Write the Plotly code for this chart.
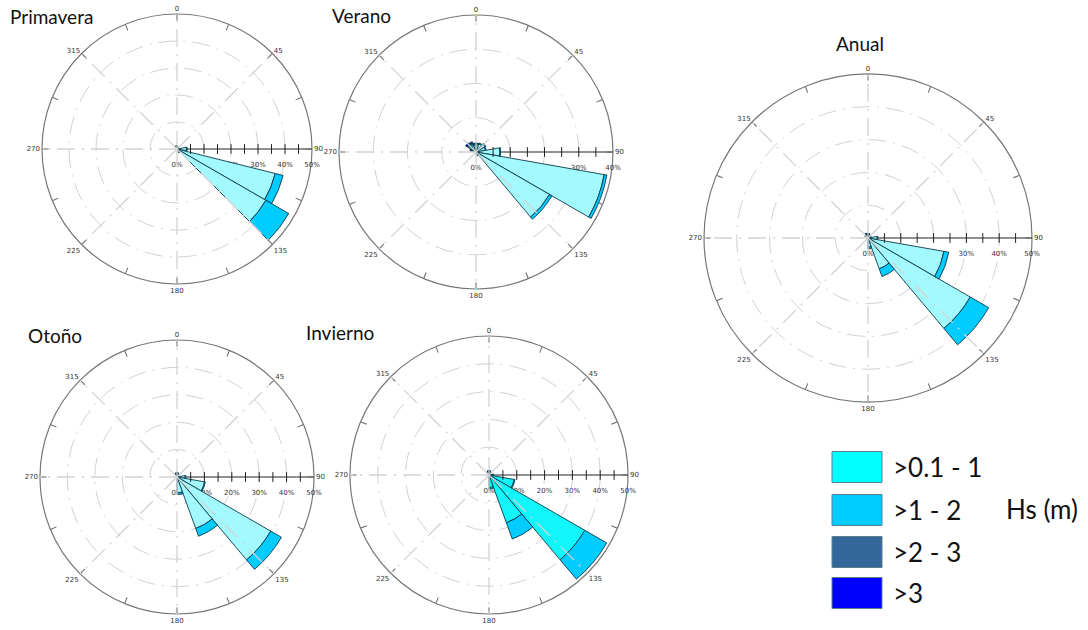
import plotly.graph_objects as go

W, H = 1088, 630

# ---------------- data (percent of occurrences per direction bin) ----------------
CLASS_NAMES = [">0.1 - 1", ">1 - 2", ">2 - 3", ">3"]
CLASS_COLORS = ["#00FFFF", "#00CCFF", "#336699", "#0000FF"]
LIGHT_CYAN = "#A2FAFF"

ANG_TICKS = [0, 22.5, 45, 67.5, 90, 112.5, 135, 157.5, 180, 202.5, 225, 247.5,
             270, 292.5, 315, 337.5]
ANG_LABELS = ["0", "", "45", "", "90", "", "135", "", "180", "", "225", "",
              "270", "", "315", ""]
SPOKES = [0, 45, 135, 180, 225, 270, 315]

# Primavera
PRIM_DIR = [330, 350, 10, 30, 90, 112, 127.5, 145]
PRIM_WID = [20, 20, 20, 20, 20, 16, 15, 20]
PRIM_H1 = [0.6, 0.8, 0.8, 0.6, 3.5, 37.5, 38.0, 1.2]
PRIM_H2 = [0.2, 0.2, 0.2, 0.2, 0.3, 3.0, 9.8, 0.4]
PRIM_H3 = [0.2, 0.2, 0.1, 0.0, 0.0, 0.0, 0.0, 0.0]
PRIM_H4 = [0.1, 0.1, 0.0, 0.0, 0.0, 0.0, 0.0, 0.0]

# Verano
VER_DIR = [290, 310, 330, 350, 10, 30, 50, 70, 90, 110, 130, 150]
VER_WID = [20] * 12
VER_H1 = [1.0, 1.8, 2.0, 2.0, 2.2, 2.5, 3.0, 2.8, 7.0, 38.0, 24.8, 1.0]
VER_H2 = [0.3, 0.6, 0.5, 0.3, 0.3, 0.3, 0.3, 0.2, 0.2, 0.8, 0.8, 0.2]
VER_H3 = [0.3, 0.6, 0.4, 0.2, 0.1, 0.0, 0.0, 0.0, 0.0, 0.0, 0.0, 0.0]
VER_H4 = [0.2, 0.5, 0.3, 0.1, 0.0, 0.0, 0.0, 0.0, 0.0, 0.0, 0.0, 0.0]

# Otoño
OTO_DIR = [330, 350, 10, 30, 50, 70, 90, 110, 130, 150, 170]
OTO_WID = [20] * 11
OTO_H1 = [0.8, 1.0, 1.0, 0.8, 0.6, 0.6, 3.0, 10.2, 39.5, 20.0, 5.8]
OTO_H2 = [0.2, 0.3, 0.3, 0.2, 0.1, 0.1, 0.2, 0.3, 4.5, 3.0, 0.6]
OTO_H3 = [0.2, 0.2, 0.2, 0.1, 0.0, 0.0, 0.0, 0.0, 0.0, 0.0, 0.0]
OTO_H4 = [0.1, 0.1, 0.1, 0.0, 0.0, 0.0, 0.0, 0.0, 0.0, 0.0, 0.0]

# Invierno
INV_DIR = [330, 350, 10, 30, 50, 70, 90, 110, 130, 150, 170]
INV_WID = [20] * 11
INV_H1 = [0.8, 1.0, 1.0, 0.8, 0.6, 0.6, 1.5, 9.2, 39.8, 18.3, 4.5]
INV_H2 = [0.2, 0.3, 0.3, 0.2, 0.1, 0.1, 0.2, 0.3, 9.1, 6.2, 0.5]
INV_H3 = [0.2, 0.2, 0.2, 0.1, 0.0, 0.0, 0.0, 0.0, 0.0, 0.0, 0.0]
INV_H4 = [0.1, 0.1, 0.1, 0.0, 0.0, 0.0, 0.0, 0.0, 0.0, 0.0, 0.0]

# Anual
AN_DIR = [310, 330, 350, 10, 30, 50, 70, 90, 110, 130, 150, 170]
AN_WID = [20] * 12
AN_H1 = [0.6, 0.8, 0.8, 0.8, 0.8, 0.8, 0.8, 2.8, 23.5, 36.0, 10.0, 2.8]
AN_H2 = [0.2, 0.3, 0.3, 0.3, 0.2, 0.2, 0.2, 0.2, 1.5, 6.5, 2.5, 0.5]
AN_H3 = [0.2, 0.3, 0.2, 0.2, 0.1, 0.0, 0.0, 0.0, 0.0, 0.0, 0.0, 0.0]
AN_H4 = [0.1, 0.2, 0.1, 0.1, 0.0, 0.0, 0.0, 0.0, 0.0, 0.0, 0.0, 0.0]


def dom(cx, cy, r):
    return dict(x=[(cx - r) / W, (cx + r) / W], y=[1 - (cy + r) / H, 1 - (cy - r) / H])


SEASONS = [
    dict(title="Primavera", dirs=PRIM_DIR, wid=PRIM_WID, vals=[PRIM_H1, PRIM_H2, PRIM_H3, PRIM_H4],
         rmax=50, c1=LIGHT_CYAN, dom=dom(177, 149, 135), tx=8, ty=16),
    dict(title="Verano", dirs=VER_DIR, wid=VER_WID, vals=[VER_H1, VER_H2, VER_H3, VER_H4],
         rmax=40, c1=LIGHT_CYAN, dom=dom(476, 152, 137), tx=330, ty=15),
    dict(title="Otoño", dirs=OTO_DIR, wid=OTO_WID, vals=[OTO_H1, OTO_H2, OTO_H3, OTO_H4],
         rmax=50, c1=LIGHT_CYAN, dom=dom(177, 477, 137), tx=26, ty=335),
    dict(title="Invierno", dirs=INV_DIR, wid=INV_WID, vals=[INV_H1, INV_H2, INV_H3, INV_H4],
         rmax=50, c1="#10F6FA", dom=dom(489, 475, 139), tx=304, ty=332),
    dict(title="Anual", dirs=AN_DIR, wid=AN_WID, vals=[AN_H1, AN_H2, AN_H3, AN_H4],
         rmax=50, c1=LIGHT_CYAN, dom=dom(868, 238, 164), tx=834, ty=44),
]

GRID_DASH = "18px,7px,2px,7px"
GRID_COLOR = "#d2d2d2"

fig = go.Figure()
annotations = []

for i, s in enumerate(SEASONS):
    pid = "polar" if i == 0 else f"polar{i + 1}"
    rmax = s["rmax"]
    # dashed spokes (angular grid)
    rr, tt = [], []
    for a in SPOKES:
        rr += [0, rmax, None]
        tt += [a, a, None]
    fig.add_trace(go.Scatterpolar(r=rr, theta=tt, mode="lines", subplot=pid,
                                  line=dict(color=GRID_COLOR, width=1.3, dash=GRID_DASH),
                                  hoverinfo="skip", showlegend=False))
    # stacked bars
    for k in range(4):
        col = s["c1"] if k == 0 else CLASS_COLORS[k]
        fig.add_trace(go.Barpolar(r=s["vals"][k], theta=s["dirs"], width=s["wid"],
                                  name=CLASS_NAMES[k], subplot=pid, showlegend=False,
                                  marker=dict(color=col, line=dict(color="#0b3a4c", width=0.9))))
    # minor ticks along radial axis
    rt = list(range(5, rmax, 5))
    fig.add_trace(go.Scatterpolar(r=rt, theta=[90] * len(rt), mode="markers", subplot=pid,
                                  marker=dict(symbol="line-ns", size=7,
                                              line=dict(color="#222", width=1)),
                                  hoverinfo="skip", showlegend=False, cliponaxis=False))
    rv = list(range(0, rmax + 1, 10))
    fig.update_layout({pid: dict(
        domain=s["dom"], bgcolor="white", barmode="stack",
        radialaxis=dict(range=[0, rmax], angle=0, tickvals=rv, ticktext=[f"{v}%" for v in rv],
                        ticks="outside", ticklen=9, tickcolor="rgba(0,0,0,0)",
                        showline=True, linecolor="#222", linewidth=1,
                        showgrid=True, gridcolor=GRID_COLOR, griddash=GRID_DASH, gridwidth=1.3,
                        tickfont=dict(size=7, color="#333", family="DejaVu Sans"),
                        layer="below traces"),
        angularaxis=dict(rotation=90, direction="clockwise", tickvals=ANG_TICKS,
                         ticktext=ANG_LABELS, ticks="inside", ticklen=6, tickcolor="#666",
                         showgrid=False, showline=True, linecolor="#777", linewidth=1.2,
                         tickfont=dict(size=7, color="#333", family="DejaVu Sans"),
                         layer="below traces"),
    )})
    annotations.append(dict(text=s["title"], x=s["tx"] / W, y=1 - s["ty"] / H,
                            xref="paper", yref="paper", xanchor="left", yanchor="middle",
                            showarrow=False, font=dict(family="Lato", size=19, color="#111")))

# legend drawn as boxes
LEG_Y = [467, 510, 552, 593]
shapes = []
for k in range(4):
    cy = LEG_Y[k]
    shapes.append(dict(type="rect", xref="paper", yref="paper",
                       x0=832 / W, x1=882 / W, y0=1 - (cy + 15.5) / H, y1=1 - (cy - 15.5) / H,
                       fillcolor=CLASS_COLORS[k], line=dict(color="#5a7f93", width=1)))
    annotations.append(dict(text=CLASS_NAMES[k], x=891 / W, y=1 - cy / H, xref="paper",
                            yref="paper", xanchor="left", yanchor="middle", showarrow=False,
                            font=dict(family="Lato", size=26, color="#111")))
annotations.append(dict(text="Hs (m)", x=1004 / W, y=1 - 509 / H, xref="paper", yref="paper",
                        xanchor="left", yanchor="middle", showarrow=False,
                        font=dict(family="Lato", size=26, color="#111")))

fig.update_layout(width=W, height=H, margin=dict(l=0, r=0, t=0, b=0),
                  paper_bgcolor="white", plot_bgcolor="white", showlegend=False,
                  annotations=annotations, shapes=shapes)

fig.write_html("out.html", config={"displayModeBar": False},
               post_script="document.body.style.margin='0';document.body.style.overflow='hidden';")
